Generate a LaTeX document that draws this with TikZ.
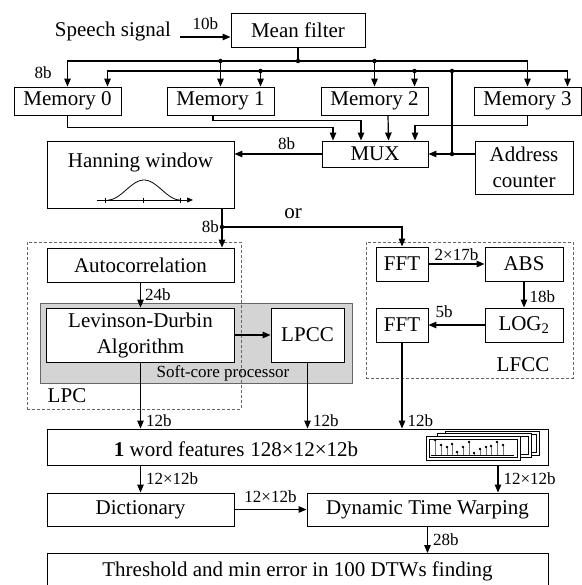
\documentclass[tikz,border=0pt]{standalone}
\usepackage{fontspec}
\setmainfont{Liberation Serif}
\usetikzlibrary{arrows.meta,positioning}
\tikzset{%
   blk/.style={draw, line width=0.9pt, fill=white, inner sep=0pt, align=center,
     font=\fontsize{21}{26}\selectfont},
   mem/.style={blk, minimum width=107pt, minimum height=28pt},
   txt/.style={inner sep=0pt, font=\fontsize{21}{26}\selectfont},
   lbl/.style={inner sep=1pt, font=\fontsize{17}{19}\selectfont},
   wire/.style={line width=1.2pt},
   arr/.style={line width=1.2pt, -{Triangle[length=8pt,width=6.5pt]}},
   dot/.style={circle, inner sep=0mm, outer sep=0mm, minimum size=4.5pt, fill=black},
   grp/.style={draw=black!60, line width=0.6pt, dash pattern=on 3pt off 2pt},
}
\begin{document}
\begin{tikzpicture}[x=1pt, y=-1pt]
   \useasboundingbox (0,0) rectangle (581,585);
   % groups
   \node[draw=black!60, fill=black!17, line width=0.8pt, minimum width=312pt, minimum height=80pt] (soft) at (196,343) {};
   \node[grp, minimum width=214pt, minimum height=167pt] (lpcgrp) at (134,325.5) {};
   \node[grp, minimum width=207pt, minimum height=136pt] (lfccgrp) at (469.5,310) {};
   \node[lbl] (softtxt) at (223,373) {Soft-core processor};
   \node[txt] (lpctxt) at (67,396) {LPC};
   \node[txt] (lfcctxt) at (523,365) {LFCC};

   % blocks
   \node[txt, anchor=base] (speech) at (113,37) {Speech signal};
   \node[blk, minimum width=134pt, minimum height=34pt] (mean) at (298,30) {Mean filter};
   \foreach \i/\cx in {0/67.5, 1/220.5, 2/374.5, 3/527.5}
      \node[mem] (m\i) at (\cx,101) {Memory \i};
   \node[blk, minimum width=106pt, minimum height=26pt] (mux) at (375,154) {MUX};
   \node[blk, minimum width=98pt, minimum height=53pt] (addr) at (524,167.5) {Address\\counter};
   \node[blk, minimum width=187pt, minimum height=67pt] (hann) at (140.5,174.5) {};
   \node[txt] (hanntxt) at (140.5,162) {Hanning window};
   \node[blk, minimum width=187pt, minimum height=34pt] (auto) at (140.5,265) {Autocorrelation};
   \node[blk, minimum width=188pt, minimum height=54pt] (levin) at (140.5,335) {Levinson-Durbin\\Algorithm};
   \node[blk, minimum width=73pt, minimum height=54pt] (lpcc) at (307.5,335) {LPCC};
   \node[blk, minimum width=52pt, minimum height=34pt] (fftA) at (402,264) {FFT};
   \node[blk, minimum width=78pt, minimum height=34pt] (abs) at (524,264) {ABS};
   \node[blk, minimum width=52pt, minimum height=34pt] (fftB) at (402,325) {FFT};
   \node[blk, minimum width=78pt, minimum height=34pt] (log) at (524,325) {LOG\textsubscript{2}};
   \node[blk, minimum width=501pt, minimum height=36pt] (feat) at (297.5,447) {};
   \node[txt] (feattxt) at (236,449) {\textbf{1} word features\hspace{6pt}128×12×12b};
   \node[blk, minimum width=187pt, minimum height=33pt] (dict) at (140.5,509.5) {Dictionary};
   \node[blk, minimum width=241pt, minimum height=33pt] (dtw) at (427.5,509.5) {Dynamic Time Warping};
   \node[blk, minimum width=501pt, minimum height=35pt] (thr) at (297.5,571) {Threshold and min error in 100 DTWs finding};

   % hanning window sketch
   \draw[line width=0.7pt, -{Triangle[length=6pt,width=5pt]}] (97,200) -- (193,200);
   \foreach \t in {105,143,180}
      \draw[line width=0.7pt] (\t,197.5) -- (\t,202.5);
   \draw[line width=0.8pt] plot[domain=0:1, samples=40, smooth] ({108+72*\x},{200-20*(0.5-0.5*cos(360*\x))});

   % feature frames
   \foreach \fx/\fy in {19/-5, 11/-3, 0/0} {
      \draw[fill=white, line width=0.6pt] (426+\fx,436+\fy) rectangle (520+\fx,460+\fy);
      \draw[line width=0.5pt] (429+\fx,439+\fy) rectangle (517+\fx,457+\fy);
   }
   \draw[line width=0.6pt] (431,455) -- (514,455);
   \foreach \sx/\sh in {435/15, 441/10, 447/8, 452/11, 457/3, 463/8, 469/13, 474/2, 480/6, 486/8, 491/9, 497/13, 503/10}{
      \draw[black!55, line width=0.8pt] (\sx,455) -- (\sx,455-\sh);
      \fill (\sx,455-\sh) circle (1.4pt);
   }

   % junctions
   \coordinate (b1) at (298,61);
   \coordinate (b2) at (452,71);
   \coordinate (aj) at (452,154);
   \coordinate (hj) at (222,227);
   \foreach \i in {0,...,3}
      \coordinate (a\i) at ([xshift=40pt]m\i.north);
   \coordinate (dtwin) at ([xshift=70.5pt]dtw.north);

   % input
   \draw[arr] ([xshift=9pt]speech.base east) -- (mean.west |- speech.base)
      node[lbl, midway, above=6pt] (l10) {10b};

   % data bus
   \draw[wire] (mean.south) -- (b1);
   \draw[arr] (b1) -| (m0.north);
   \draw[arr] (b1) -| (m3.north);
   \draw[arr] (b1 -| m1.north) -- (m1.north);
   \draw[arr] (b1 -| m2.north) -- (m2.north);
   \node[lbl] (l8a) at (43,73) {8b};

   % address bus
   \draw[arr] (addr.west |- mux.east) -- (mux.east);
   \draw[wire] (aj) -- (b2);
   \draw[arr] (b2) -| (a0);
   \draw[arr] (b2) -| (a3);
   \draw[arr] (b2 -| a1) -- (a1);
   \draw[arr] (b2 -| a2) -- (a2);

   \node[dot] (d1) at (b1) {};
   \node[dot] (d2) at (b1 -| m1.north) {};
   \node[dot] (d3) at (b1 -| m2.north) {};
   \node[dot] (d4) at (b2) {};
   \node[dot] (d5) at (b2 -| a1) {};
   \node[dot] (d6) at (b2 -| a2) {};
   \node[dot] (d7) at (aj) {};

   % memories to mux
   \draw[arr] (m0.south) -- ++(0,12) -| ([xshift=-42pt]mux.north);
   \draw[arr] ([xshift=-7.5pt]m1.south) -- ++(0,5) -| ([xshift=-14pt]mux.north);
   \draw[arr] ([xshift=13.5pt]m2.south) -- ([xshift=13.5pt]mux.north);
   \draw[arr] (m3.south) -- ++(0,10) -| ([xshift=40pt]mux.north);

   % mux to window
   \draw[arr] (mux.west) -- (mux.west -| hann.east)
      node[lbl, pos=0.4, above=3pt] (l8b) {8b};

   % split
   \draw[wire] (hann.south -| hj) -- (hj);
   \draw[arr] (hj) -- (auto.north -| hj);
   \draw[arr] (hj) -| (fftA.north);
   \node[dot] (d8) at (hj) {};
   \node[lbl, left=2pt] (l8c) at (hj) {8b};
   \node[txt] (or) at (293,214) {or};

   % LPC path
   \draw[arr] (auto.south) -- (levin.north)
      node[lbl, midway, right=3pt] (l24) {24b};
   \draw[arr] (levin.east) -- (lpcc.west);

   % LFCC path
   \draw[arr] (fftA.east) -- (abs.west)
      node[lbl, midway, above=2pt] (l34) {2×17b};
   \draw[arr] (abs.south) -- (log.north)
      node[lbl, pos=0.6, right=4pt] (l18) {18b};
   \draw[arr] (log.west) -- (fftB.east)
      node[lbl, pos=0.72, above=6pt] (l5) {5b};

   % features
   \draw[arr] (levin.south) -- (levin.south |- feat.north)
      node[lbl, pos=0.88, right=4pt] (l12a) {12b};
   \draw[arr] (lpcc.south) -- (lpcc.south |- feat.north)
      node[lbl, pos=0.88, right=4pt] (l12b) {12b};
   \draw[arr] (fftB.south) -- (fftB.south |- feat.north)
      node[lbl, pos=0.91, right=4pt] (l12c) {12b};

   % matching
   \draw[arr] (feat.south -| dict.north) -- (dict.north)
      node[lbl, midway, right=4pt] (l144a) {12×12b};
   \draw[arr] (feat.south -| dtwin) -- (dtwin)
      node[lbl, midway, right=4pt] (l144b) {12×12b};
   \draw[arr] (dict.east) -- (dtw.west)
      node[lbl, midway, above=5pt] (l144c) {12×12b};
   \draw[arr] (dtw.south) -- (dtw.south |- thr.north)
      node[lbl, midway, right=4pt] (l28) {28b};
\end{tikzpicture}
\end{document}
